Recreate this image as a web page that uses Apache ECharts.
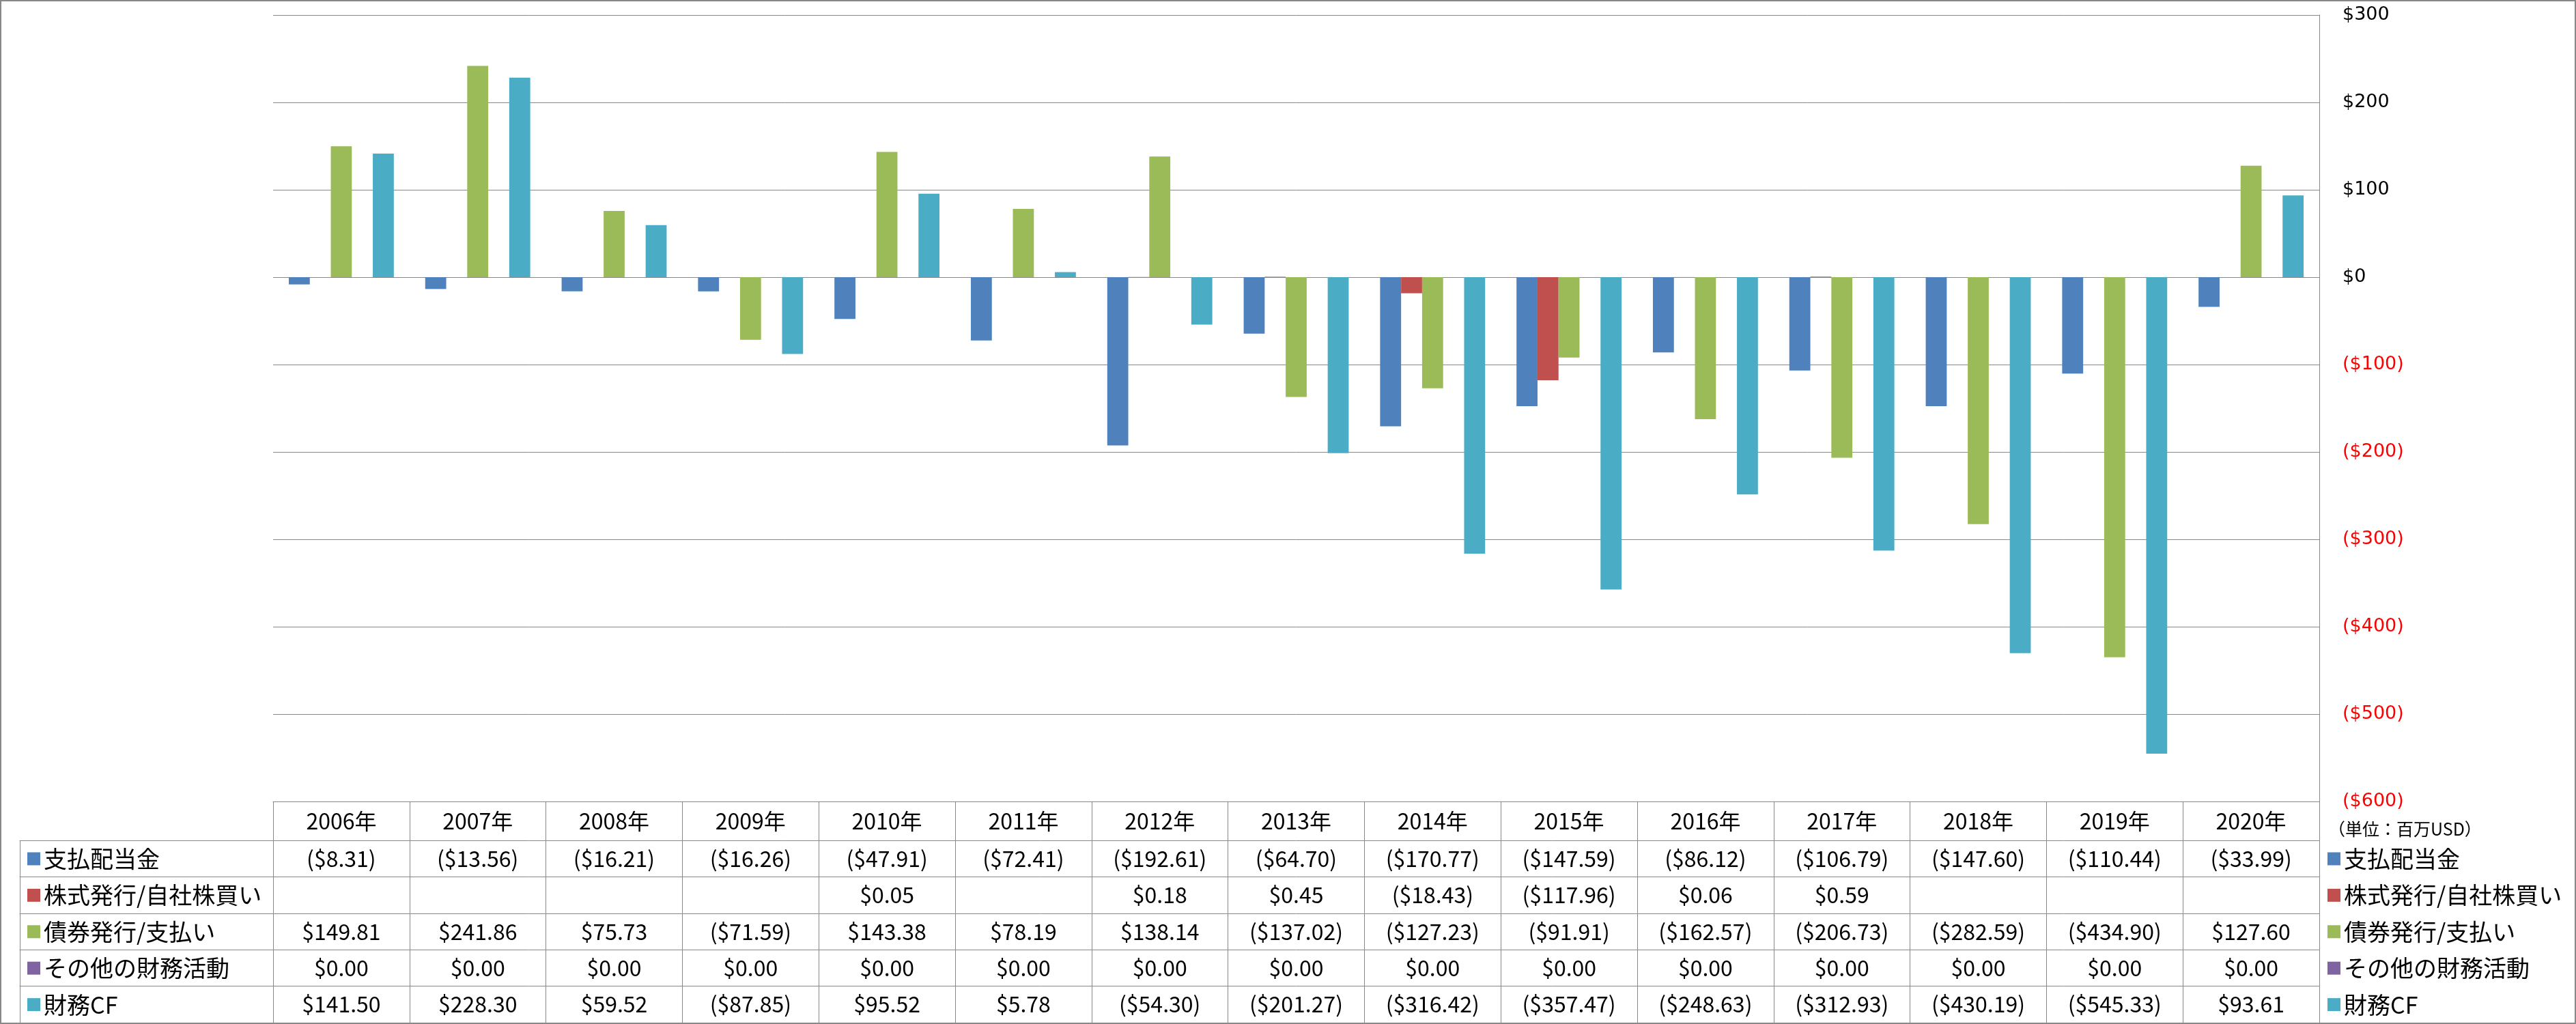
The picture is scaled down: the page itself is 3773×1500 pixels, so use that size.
<!DOCTYPE html>
<html>
<head>
<meta charset="utf-8">
<script src="https://cdn.jsdelivr.net/npm/echarts@6/dist/echarts.min.js"></script>
<style>
  html, body { margin: 0; padding: 0; background: #fff; }
  #chart { width: 3773px; height: 1500px; }
</style>
</head>
<body>
<div id="chart"></div>
<script>
const years = ['2006年', '2007年', '2008年', '2009年', '2010年', '2011年', '2012年', '2013年',
  '2014年', '2015年', '2016年', '2017年', '2018年', '2019年', '2020年']

const seriesNames = ['支払配当金', '株式発行/自社株買い', '債券発行/支払い', 'その他の財務活動', '財務CF']
const seriesColors = ['#4F81BD', '#C0504D', '#9BBB59', '#8064A2', '#4BACC6']

const dividends = [-8.31, -13.56, -16.21, -16.26, -47.91, -72.41, -192.61, -64.70,
  -170.77, -147.59, -86.12, -106.79, -147.60, -110.44, -33.99]
const stock = [null, null, null, null, 0.05, null, 0.18, 0.45,
  -18.43, -117.96, 0.06, 0.59, null, null, null]
const debt = [149.81, 241.86, 75.73, -71.59, 143.38, 78.19, 138.14, -137.02,
  -127.23, -91.91, -162.57, -206.73, -282.59, -434.90, 127.60]
const other = [0, 0, 0, 0, 0, 0, 0, 0, 0, 0, 0, 0, 0, 0, 0]
const financingCF = [141.50, 228.30, 59.52, -87.85, 95.52, 5.78, -54.30, -201.27,
  -316.42, -357.47, -248.63, -312.93, -430.19, -545.33, 93.61]

const allSeries = [dividends, stock, debt, other, financingCF]

const yMin = -600
const yMax = 300
const yStep = 100

const GRAY = '#888888'
const FONT = '"Noto Sans CJK JP", "Noto Sans", sans-serif'
const headH = 57
const rowH = 53.4

// 表のセル用テキスト
function money(v) {
  if (v === null || v === undefined) return ''
  if (v < 0) return '($' + Math.abs(v).toFixed(2) + ')'
  return '$' + v.toFixed(2)
}

const chart = echarts.init(document.getElementById('chart'))

const xAxes = []
// 年のヘッダ行（棒グラフのカテゴリ軸も兼ねる）
xAxes.push({
  type: 'category',
  gridIndex: 0,
  data: years,
  position: 'bottom',
  offset: 0,
  axisLine: { show: true, onZero: false, lineStyle: { color: GRAY, width: 1 } },
  axisTick: { show: true, interval: 0, length: headH, lineStyle: { color: GRAY, width: 1 } },
  axisLabel: {
    interval: 0, margin: headH / 2, verticalAlign: 'middle',
    fontSize: 32, color: '#000', fontFamily: FONT
  }
})
// データ表の各行
allSeries.forEach((vals, i) => {
  xAxes.push({
    type: 'category',
    gridIndex: 0,
    data: vals.map(money),
    position: 'bottom',
    offset: headH + i * rowH,
    axisLine: { show: true, onZero: false, lineStyle: { color: GRAY, width: 1 } },
    axisTick: { show: true, interval: 0, length: rowH, lineStyle: { color: GRAY, width: 1 } },
    axisLabel: {
      interval: 0, margin: rowH / 2, verticalAlign: 'middle',
      fontSize: 32, color: '#000', fontFamily: FONT
    }
  })
})
// 左側の系列名セルの罫線
allSeries.forEach((vals, i) => {
  xAxes.push({
    type: 'category',
    gridIndex: 1,
    data: [''],
    position: 'bottom',
    offset: headH + i * rowH,
    axisLine: { show: true, onZero: false, lineStyle: { color: GRAY, width: 1 } },
    axisTick: { show: true, interval: 0, length: rowH, lineStyle: { color: GRAY, width: 1 } },
    axisLabel: { show: false }
  })
})

const legendBase = {
  orient: 'vertical',
  top: 1240,
  padding: 0,
  itemGap: rowH - 36,
  itemWidth: 19,
  itemHeight: 19,
  icon: 'rect',
  selectedMode: false,
  data: seriesNames,
  textStyle: { fontSize: 34, lineHeight: 36, color: '#000', fontFamily: FONT }
}

const option = {
  animation: false,
  backgroundColor: '#fff',
  title: {
    text: '（単位：百万USD）',
    left: 3410,
    top: 1202,
    padding: 0,
    textStyle: { fontSize: 25, fontWeight: 'normal', color: '#000', fontFamily: FONT }
  },
  legend: [
    Object.assign({}, legendBase, { left: 40 }),
    Object.assign({}, legendBase, { left: 3409 })
  ],
  grid: [
    { left: 400, right: 376, top: 22, bottom: 326, outerBoundsMode: 'none', containLabel: false },
    { left: 29, width: 371, top: 22, bottom: 326, outerBoundsMode: 'none', containLabel: false }
  ],
  xAxis: xAxes,
  yAxis: [
    {
      type: 'value',
      gridIndex: 0,
      position: 'right',
      min: yMin,
      max: yMax,
      interval: yStep,
      axisLine: { show: true, lineStyle: { color: GRAY, width: 1 } },
      axisTick: { show: false },
      splitLine: { show: true, lineStyle: { color: GRAY, width: 1 } },
      axisLabel: {
        margin: 34,
        fontSize: 27,
        fontFamily: '"DejaVu Sans", sans-serif',
        showMinLabel: true,
        showMaxLabel: true,
        color: v => (v < 0 ? '#FF0000' : '#000'),
        formatter: v => (v < 0 ? '($' + Math.abs(v) + ')' : '$' + v)
      }
    },
    { type: 'value', gridIndex: 1, show: false }
  ],
  series: allSeries.map((vals, i) => ({
    name: seriesNames[i],
    type: 'bar',
    xAxisIndex: 0,
    yAxisIndex: 0,
    data: vals,
    barGap: '0%',
    barCategoryGap: '23%',
    itemStyle: { color: seriesColors[i] }
  })),
  graphic: [
    {
      type: 'rect',
      silent: true,
      z: 100,
      shape: { x: 1, y: 1, width: 3771, height: 1498 },
      style: { fill: 'none', stroke: GRAY, lineWidth: 2 }
    }
  ]
}

chart.setOption(option)
</script>
</body>
</html>
